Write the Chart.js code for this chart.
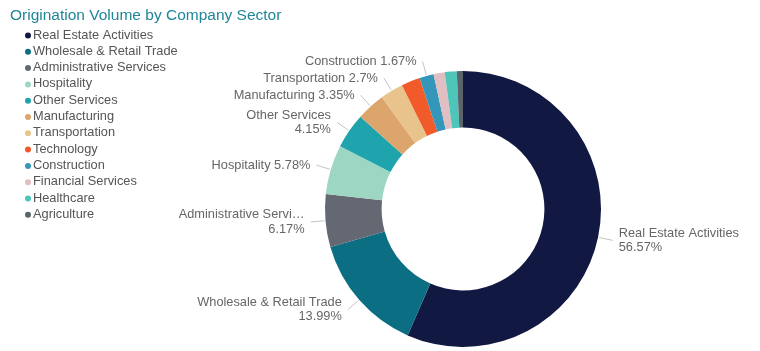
<!DOCTYPE html>
<html>
<head>
<meta charset="utf-8">
<script src="https://cdn.jsdelivr.net/npm/chart.js@4.4.1/dist/chart.umd.min.js"></script>
<style>
  html, body { margin: 0; padding: 0; background: #fff; }
  #wrap { width: 760px; height: 351px; }
</style>
</head>
<body>
<div id="wrap"><canvas id="sector-chart" width="760" height="351"></canvas></div>
<script>
// data
const sectors = [
  "Real Estate Activities",
  "Wholesale & Retail Trade",
  "Administrative Services",
  "Hospitality",
  "Other Services",
  "Manufacturing",
  "Transportation",
  "Technology",
  "Construction",
  "Financial Services",
  "Healthcare",
  "Agriculture",
];
const shares = [56.57, 13.99, 6.17, 5.78, 4.15, 3.35, 2.7, 2.2, 1.67, 1.3, 1.4, 0.72];
const sectorColors = [
  "#111842", "#0b6e82", "#646873", "#9dd6c3", "#1fa4ad", "#dca56b",
  "#e8c48c", "#f15a29", "#3497ba", "#e0bec1", "#4dc5b9", "#5b6468",
];
// slices that get a data label (the rest are too thin)
const labelled = [
  "Real Estate Activities", "Wholesale & Retail Trade", "Administrative Services",
  "Hospitality", "Other Services", "Manufacturing", "Transportation", "Construction",
];

const FONT = "'Liberation Sans', Arial, sans-serif";

// title + legend drawn on the left
const sideLegend = {
  id: "sideLegend",
  afterDraw(chart) {
    const ctx = chart.ctx;
    ctx.save();
    ctx.font = "15.5px " + FONT;
    ctx.fillStyle = "#1f8598";
    ctx.textBaseline = "middle";
    ctx.textAlign = "left";
    ctx.fillText("Origination Volume by Company Sector", 10, 16);

    ctx.font = "12.8px " + FONT;
    const colors = chart.data.datasets[0].backgroundColor;
    chart.data.labels.forEach((lab, i) => {
      const y = 35 + i * 16.3;
      ctx.beginPath();
      ctx.arc(28, y + 0.5, 3, 0, Math.PI * 2);
      ctx.fillStyle = colors[i];
      ctx.fill();
      ctx.fillStyle = "#555";
      ctx.fillText(lab, 33, y);
    });
    ctx.restore();
  },
};

// outside labels with leader lines
const outsideLabels = {
  id: "outsideLabels",
  afterDatasetsDraw(chart) {
    const ctx = chart.ctx;
    const meta = chart.getDatasetMeta(0);
    ctx.save();
    ctx.font = "12.8px " + FONT;
    ctx.textBaseline = "middle";
    meta.data.forEach((arc, i) => {
      const name = chart.data.labels[i];
      if (!labelled.includes(name)) return;
      const p = arc.getProps(["x", "y", "startAngle", "endAngle", "outerRadius"], true);
      const mid = (p.startAngle + p.endAngle) / 2;
      const cos = Math.cos(mid), sin = Math.sin(mid);
      const x1 = p.x + cos * (p.outerRadius + 1);
      const y1 = p.y + sin * (p.outerRadius + 1);
      const x2 = p.x + cos * (p.outerRadius + 15);
      const y2 = p.y + sin * (p.outerRadius + 15);
      ctx.strokeStyle = "#c4c4c4";
      ctx.lineWidth = 1;
      ctx.beginPath();
      ctx.moveTo(x1, y1);
      ctx.lineTo(x2, y2);
      ctx.stroke();

      const right = cos >= 0;
      const tx = right ? x2 + 6 : x2 - 6;
      const pct = chart.data.datasets[0].data[i] + "%";
      const single = name + " " + pct;
      const w = ctx.measureText(single).width;
      let lines;
      if (right ? tx + w <= chart.width - 5 : tx - w >= 209) {
        lines = [single];
      } else {
        let nm = name;
        if (!right && tx - ctx.measureText(nm).width < 175) {
          while (nm.length > 1 && tx - ctx.measureText(nm + "…").width < 175) nm = nm.slice(0, -1);
          nm = nm.trimEnd() + "…";
        }
        lines = [nm, pct];
      }
      ctx.fillStyle = "#666";
      ctx.textAlign = right ? "left" : "right";
      const lh = 14.5;
      lines.forEach((t, k) => {
        ctx.fillText(t, tx, y2 + (k - (lines.length - 1) / 2) * lh);
      });
    });
    ctx.restore();
  },
};

new Chart(document.getElementById("sector-chart").getContext("2d"), {
  type: "doughnut",
  data: {
    labels: sectors,
    datasets: [{
      data: shares,
      backgroundColor: sectorColors,
      borderWidth: 0,
    }],
  },
  options: {
    responsive: false,
    animation: false,
    cutout: "59%",
    layout: { padding: { left: 325, right: 159, top: 71, bottom: 4 } },
    plugins: {
      legend: { display: false },
      title: { display: false },
      tooltip: { enabled: false },
    },
  },
  plugins: [sideLegend, outsideLabels],
});
</script>
</body>
</html>
